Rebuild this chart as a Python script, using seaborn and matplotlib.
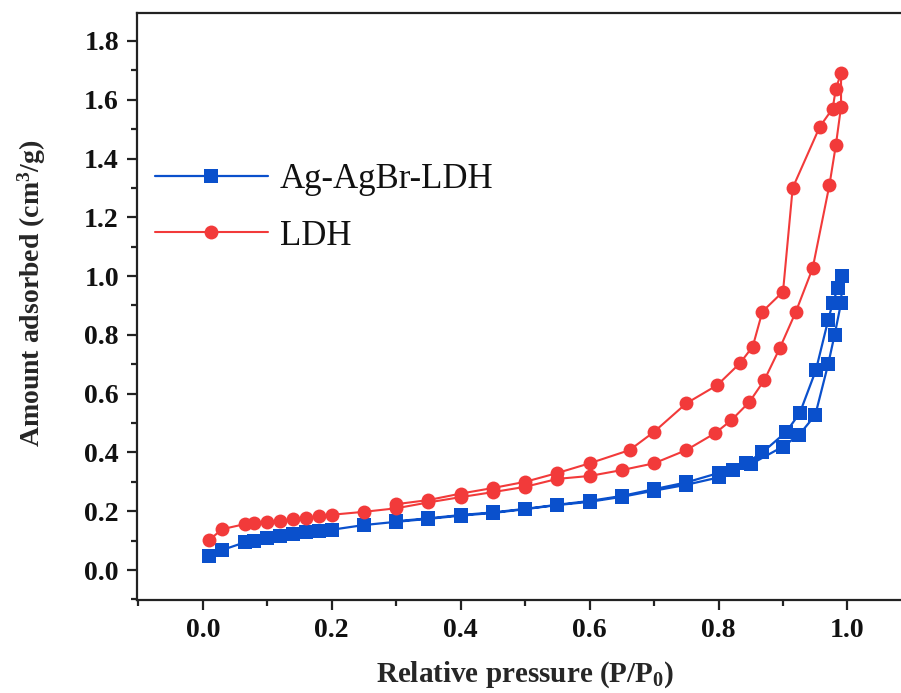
import numpy as np
import pandas as pd
import matplotlib
matplotlib.use("Agg")
import matplotlib.pyplot as plt
import seaborn as sns
from matplotlib.ticker import MultipleLocator

# Ag-AgBr-LDH: adsorption then desorption branch
ag_p = [0.01, 0.03, 0.065, 0.08, 0.10, 0.12, 0.14, 0.16, 0.18, 0.20, 0.25, 0.30, 0.35, 0.40, 0.45,
        0.50, 0.55, 0.60, 0.65, 0.70, 0.75, 0.80, 0.85, 0.90, 0.925, 0.95, 0.97, 0.98, 0.99, 0.992,
        0.985, 0.977, 0.97, 0.951, 0.926, 0.905, 0.868, 0.843, 0.822, 0.80, 0.75, 0.70, 0.65, 0.60,
        0.55, 0.50, 0.45, 0.40, 0.35, 0.30]
ag_v = [0.048, 0.068, 0.094, 0.100, 0.108, 0.117, 0.124, 0.128, 0.133, 0.137, 0.153, 0.164, 0.174, 0.185, 0.194,
        0.207, 0.221, 0.232, 0.249, 0.270, 0.290, 0.315, 0.360, 0.420, 0.460, 0.527, 0.700, 0.800, 0.908, 1.000,
        0.958, 0.908, 0.850, 0.680, 0.534, 0.470, 0.400, 0.364, 0.340, 0.330, 0.298, 0.275, 0.252, 0.235,
        0.222, 0.208, 0.196, 0.187, 0.176, 0.166]

# LDH: adsorption then desorption branch
ldh_p = [0.01, 0.03, 0.065, 0.08, 0.10, 0.12, 0.14, 0.16, 0.18, 0.20, 0.25, 0.30, 0.35, 0.40, 0.45,
         0.50, 0.55, 0.60, 0.65, 0.70, 0.75, 0.795, 0.82, 0.848, 0.871, 0.895, 0.92, 0.946, 0.972, 0.982,
         0.99, 0.99,
         0.982, 0.977, 0.957, 0.915, 0.90, 0.868, 0.853, 0.833, 0.798, 0.75, 0.70, 0.662, 0.60, 0.55,
         0.50, 0.45, 0.40, 0.35, 0.30]
ldh_v = [0.102, 0.139, 0.156, 0.161, 0.165, 0.168, 0.173, 0.178, 0.183, 0.188, 0.198, 0.210, 0.230, 0.248, 0.265,
         0.283, 0.310, 0.320, 0.340, 0.363, 0.408, 0.466, 0.510, 0.572, 0.646, 0.755, 0.879, 1.027, 1.310, 1.446,
         1.576, 1.690,
         1.638, 1.570, 1.508, 1.300, 0.947, 0.879, 0.760, 0.703, 0.629, 0.567, 0.470, 0.408, 0.363, 0.330,
         0.300, 0.279, 0.260, 0.238, 0.224]

series_names = ["Ag-AgBr-LDH", "LDH"]
x_ticks = [0.0, 0.2, 0.4, 0.6, 0.8, 1.0]
x_tick_labels = ["0.0", "0.2", "0.4", "0.6", "0.8", "1.0"]
y_ticks = [0.0, 0.2, 0.4, 0.6, 0.8, 1.0, 1.2, 1.4, 1.6, 1.8]
y_tick_labels = ["0.0", "0.2", "0.4", "0.6", "0.8", "1.0", "1.2", "1.4", "1.6", "1.8"]

sns.set_theme(style="white")
plt.rcParams['font.family'] = ['Liberation Serif', 'DejaVu Serif']
plt.rcParams['mathtext.fontset'] = 'custom'
plt.rcParams['mathtext.rm'] = 'Liberation Serif:bold'
plt.rcParams['mathtext.it'] = 'Liberation Serif:bold'
plt.rcParams['mathtext.bf'] = 'Liberation Serif:bold'

fig = plt.figure(figsize=(9.01, 6.93), dpi=100)
ax = fig.add_axes([137/901, 93/693, 1 - 137/901, (600-13)/693])

df_ag = pd.DataFrame({"p": ag_p, "v": ag_v})
df_ldh = pd.DataFrame({"p": ldh_p, "v": ldh_v})

blue = "#0a50cc"
red = "#f23a3a"
sns.lineplot(data=df_ag, x="p", y="v", sort=False, estimator=None, ax=ax, color=blue,
             marker="s", markersize=9.5, markeredgewidth=0, linewidth=1.6, label=series_names[0])
sns.lineplot(data=df_ldh, x="p", y="v", sort=False, estimator=None, ax=ax, color=red,
             marker="o", markersize=10, markeredgewidth=0, linewidth=1.5, label=series_names[1])

ax.set_xlim(-0.102, 1.083)
ax.set_ylim(-0.102, 1.895)
ax.set_xticks(x_ticks)
ax.set_yticks(y_ticks)
ax.xaxis.set_minor_locator(MultipleLocator(0.1))
ax.yaxis.set_minor_locator(MultipleLocator(0.1))
ax.set_xticklabels(x_tick_labels, fontweight="bold", fontsize=20, color="#111111")
ax.set_yticklabels(y_tick_labels, fontweight="bold", fontsize=20, color="#111111")

for s in ["left", "bottom", "top"]:
    ax.spines[s].set_visible(True)
    ax.spines[s].set_color("#222222")
    ax.spines[s].set_linewidth(1.6)
ax.spines["right"].set_visible(False)

ax.tick_params(axis="both", which="major", direction="out", length=7, width=1.6,
               color="#222222", bottom=True, left=True, top=False, right=False, pad=6)
ax.tick_params(axis="both", which="minor", direction="out", length=4, width=1.6,
               color="#222222", bottom=True, left=True, top=False, right=False)

ax.set_xlabel("Relative pressure (P/P$_0$)", fontsize=21, fontweight="bold")
ax.set_ylabel("Amount adsorbed (cm$^3$/g)", fontsize=20, fontweight="bold")
ax.xaxis.set_label_coords((525-137)/764, (600-659)/587)
ax.yaxis.set_label_coords((48-137)/764, (600-293)/587)

leg = ax.legend(loc="upper left", bbox_to_anchor=((155-137)/764, (600-163)/587), frameon=False,
                fontsize=25, handlelength=3.25, handletextpad=0.35, labelspacing=0.68,
                borderaxespad=0.0, borderpad=0.0)
for t in leg.get_texts():
    t.set_color("#111111")

fig.savefig("out.png", dpi=100)
